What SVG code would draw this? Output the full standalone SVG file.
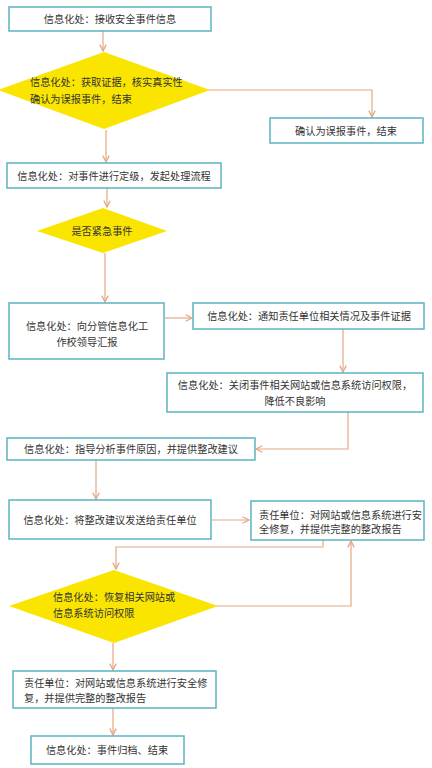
<svg xmlns="http://www.w3.org/2000/svg" width="432" height="768" viewBox="0 0 432 768">
<defs>
<style>
.box{fill:#fff;stroke:#5bb4c4;stroke-width:1.5}
.dia{fill:#f9e500;stroke:none}
.c{fill:none;stroke:#e2a884;stroke-width:1.2}
.t{font-family:"Noto Sans CJK SC","Noto Sans",sans-serif;font-size:10.2px;fill:#333}
.m{text-anchor:middle}
</style>
<marker id="ar" viewBox="0 0 10 10" refX="9" refY="5" markerWidth="8" markerHeight="8" orient="auto" markerUnits="userSpaceOnUse">
<path d="M1,1 L9,5 L1,9" fill="none" stroke="#e2a884" stroke-width="1.6"/>
</marker>
</defs>
<rect width="432" height="768" fill="#fff"/>
<g id="connectors">
<path class="c" d="M103,31 V51" marker-end="url(#ar)"/>
<path class="c" d="M208,90 H372 V117" marker-end="url(#ar)"/>
<path class="c" d="M106,130 V162" marker-end="url(#ar)"/>
<path class="c" d="M107,188 V207" marker-end="url(#ar)"/>
<path class="c" d="M105,253 V302" marker-end="url(#ar)"/>
<path class="c" d="M165,318 H192" marker-end="url(#ar)"/>
<path class="c" d="M343,329 V372" marker-end="url(#ar)"/>
<path class="c" d="M348,412 V449 H256" marker-end="url(#ar)"/>
<path class="c" d="M96,460 V499" marker-end="url(#ar)"/>
<path class="c" d="M212,520 H249" marker-end="url(#ar)"/>
<path class="c" d="M323,540 V547 H116 V569" marker-end="url(#ar)"/>
<path class="c" d="M216,606 H351 V541" marker-end="url(#ar)"/>
<path class="c" d="M113,643 V670" marker-end="url(#ar)"/>
<path class="c" d="M113,708 V735" marker-end="url(#ar)"/>
</g>
<g id="n1"><rect class="box" x="9" y="7" width="202" height="24"/><text class="t m" x="110" y="22.5">信息化处：接收安全事件信息</text></g>
<g id="n2"><polygon class="dia" points="104,52 210,90 104,129 -2,90"/><text class="t" x="30" y="86">信息化处：获取证据，核实真实性</text><text class="t" x="30" y="103">确认为误报事件，结束</text></g>
<g id="n3"><rect class="box" x="270" y="118" width="153" height="25"/><text class="t m" x="346" y="134.5">确认为误报事件，结束</text></g>
<g id="n4"><rect class="box" x="7" y="163" width="214" height="25"/><text class="t m" x="114" y="179.5">信息化处：对事件进行定级，发起处理流程</text></g>
<g id="n5"><polygon class="dia" points="103,208 167,231 103,253 37,231"/><text class="t m" x="102" y="235">是否紧急事件</text></g>
<g id="n6"><rect class="box" x="9" y="303" width="155" height="56"/><text class="t m" x="87" y="330">信息化处：向分管信息化工</text><text class="t m" x="87" y="346">作校领导汇报</text></g>
<g id="n7"><rect class="box" x="193" y="303" width="231" height="26"/><text class="t m" x="309" y="320">信息化处：通知责任单位相关情况及事件证据</text></g>
<g id="n8"><rect class="box" x="167" y="373" width="256" height="39"/><text class="t m" x="295" y="389">信息化处：关闭事件相关网站或信息系统访问权限，</text><text class="t m" x="295" y="405">降低不良影响</text></g>
<g id="n9"><rect class="box" x="7" y="438" width="248" height="22"/><text class="t m" x="131" y="453">信息化处：指导分析事件原因，并提供整改建议</text></g>
<g id="n10"><rect class="box" x="9" y="500" width="202" height="39"/><text class="t m" x="110" y="524">信息化处：将整改建议发送给责任单位</text></g>
<g id="n11"><rect class="box" x="251" y="501" width="173" height="39"/><text class="t" x="259" y="519">责任单位：对网站或信息系统进行安</text><text class="t" x="259" y="533">全修复，并提供完整的整改报告</text></g>
<g id="n12"><polygon class="dia" points="114,570 218,606 114,643 9,606"/><text class="t" x="53" y="601">信息化处：恢复相关网站或</text><text class="t" x="53" y="617">信息系统访问权限</text></g>
<g id="n13"><rect class="box" x="13" y="671" width="203" height="37"/><text class="t" x="24" y="687">责任单位：对网站或信息系统进行安全修</text><text class="t" x="24" y="702">复，并提供完整的整改报告</text></g>
<g id="n14"><rect class="box" x="31" y="736" width="153" height="28"/><text class="t m" x="107" y="754">信息化处：事件归档、结束</text></g>
</svg>
